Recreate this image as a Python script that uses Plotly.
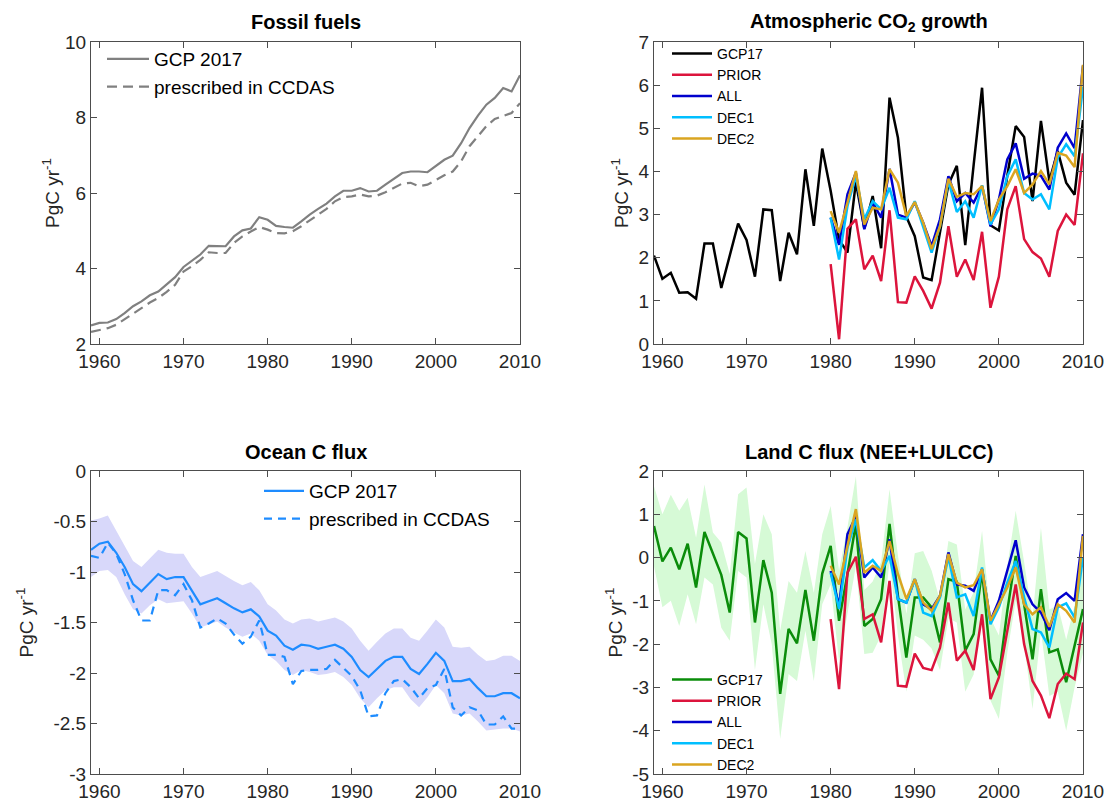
import plotly.graph_objects as go

# ---------------- data ----------------
years = list(range(1959, 2011))
years_m = list(range(1980, 2011))

ff_gcp = [2.49, 2.56, 2.57, 2.66, 2.82, 3.00, 3.13, 3.29, 3.39, 3.57, 3.77, 4.04, 4.21, 4.37, 4.60, 4.60,
          4.59, 4.85, 5.01, 5.06, 5.36, 5.29, 5.13, 5.10, 5.08, 5.25, 5.43, 5.58, 5.72, 5.91, 6.06, 6.06,
          6.13, 6.04, 6.06, 6.22, 6.38, 6.53, 6.57, 6.57, 6.55, 6.72, 6.88, 6.99, 7.32, 7.72, 8.05, 8.34,
          8.52, 8.78, 8.69, 9.12]
ff_ccdas = [2.32, 2.38, 2.42, 2.51, 2.65, 2.80, 2.95, 3.10, 3.22, 3.38, 3.57, 3.92, 4.06, 4.23, 4.43, 4.41,
            4.41, 4.68, 4.85, 4.98, 5.10, 5.03, 4.94, 4.93, 4.99, 5.12, 5.28, 5.43, 5.58, 5.78, 5.89, 5.91,
            5.96, 5.91, 5.93, 6.02, 6.13, 6.25, 6.27, 6.18, 6.22, 6.35, 6.47, 6.57, 6.84, 7.24, 7.52, 7.77,
            7.96, 8.05, 8.12, 8.38]

atm_gcp = [2.05, 1.51, 1.65, 1.19, 1.20, 1.05, 2.33, 2.33, 1.30, 2.05, 2.79, 2.41, 1.56, 3.12, 3.10, 1.46,
           2.58, 2.08, 4.05, 2.74, 4.53, 3.55, 2.42, 2.12, 3.75, 2.68, 3.43, 2.22, 5.71, 4.78, 2.95, 2.50,
           1.54, 1.48, 2.55, 3.70, 4.13, 2.29, 4.15, 5.94, 2.75, 2.63, 3.90, 5.05, 4.80, 3.31, 5.17, 3.78,
           4.47, 3.74, 3.46, 5.19]
atm_prior = [1.85, 0.11, 2.67, 2.89, 1.73, 2.05, 1.46, 3.10, 0.97, 0.96, 1.57, 1.23, 0.82, 1.42, 2.73, 1.56,
             1.96, 1.48, 2.60, 0.84, 1.56, 3.12, 3.66, 2.43, 2.13, 1.98, 1.56, 2.62, 3.00, 2.76, 4.42]
atm_all = [2.93, 2.30, 3.47, 3.97, 2.66, 3.28, 2.93, 4.06, 3.00, 2.93, 3.28, 2.81, 2.27, 2.89, 3.89, 3.31,
           3.50, 3.28, 3.66, 2.73, 3.35, 4.28, 4.65, 3.83, 3.95, 3.90, 3.58, 4.55, 4.88, 4.54, 6.45]
atm_dec1 = [2.93, 1.96, 3.20, 3.89, 2.89, 3.31, 3.12, 3.62, 2.93, 2.89, 3.31, 2.73, 2.12, 2.73, 3.78, 3.06,
            3.31, 2.93, 3.68, 2.77, 3.12, 3.89, 4.28, 3.50, 3.35, 3.47, 3.12, 4.32, 4.63, 4.35, 5.96]
atm_dec2 = [3.08, 2.58, 3.28, 4.01, 2.77, 3.16, 3.12, 4.05, 3.74, 2.97, 3.29, 2.81, 2.20, 2.73, 3.83, 3.41,
            3.50, 3.47, 3.66, 2.85, 3.35, 3.66, 4.05, 3.50, 3.70, 4.01, 3.70, 4.43, 4.37, 4.10, 6.47]

oc_gcp = [-0.78, -0.72, -0.70, -0.81, -0.95, -1.12, -1.19, -1.10, -1.02, -1.07, -1.05, -1.05, -1.18, -1.32,
          -1.29, -1.26, -1.31, -1.36, -1.40, -1.37, -1.44, -1.58, -1.63, -1.73, -1.77, -1.72, -1.73, -1.76,
          -1.74, -1.72, -1.76, -1.84, -1.97, -2.04, -1.96, -1.88, -1.84, -1.84, -1.96, -2.01, -1.91, -1.80,
          -1.88, -2.08, -2.08, -2.06, -2.15, -2.23, -2.23, -2.20, -2.20, -2.25]
oc_ccdas = [-0.84, -0.86, -0.71, -0.82, -1.02, -1.28, -1.48, -1.48, -1.18, -1.18, -1.23, -1.12, -1.28, -1.55,
            -1.51, -1.46, -1.51, -1.62, -1.71, -1.64, -1.48, -1.82, -1.82, -1.84, -2.11, -1.98, -1.97, -1.97,
            -1.96, -1.87, -1.95, -2.03, -2.17, -2.43, -2.42, -2.20, -2.08, -2.06, -2.14, -2.25, -2.15, -2.12,
            -1.96, -2.34, -2.42, -2.34, -2.37, -2.51, -2.51, -2.43, -2.55, -2.55]
oc_upper = [-0.49, -0.47, -0.44, -0.59, -0.74, -0.89, -0.95, -0.87, -0.78, -0.81, -0.82, -0.82, -0.95, -1.05,
            -1.02, -0.99, -1.04, -1.09, -1.13, -1.10, -1.18, -1.32, -1.38, -1.47, -1.51, -1.47, -1.46, -1.49,
            -1.47, -1.45, -1.49, -1.56, -1.68, -1.78, -1.69, -1.61, -1.56, -1.56, -1.65, -1.68, -1.58, -1.47,
            -1.55, -1.74, -1.75, -1.74, -1.82, -1.88, -1.87, -1.83, -1.83, -1.88]
oc_lower = [-1.05, -0.99, -0.98, -1.05, -1.22, -1.37, -1.41, -1.33, -1.27, -1.31, -1.30, -1.29, -1.41, -1.55,
            -1.52, -1.49, -1.55, -1.60, -1.64, -1.61, -1.68, -1.82, -1.88, -1.97, -2.02, -1.97, -1.99, -2.02,
            -2.01, -1.99, -2.04, -2.12, -2.25, -2.34, -2.25, -2.17, -2.14, -2.14, -2.26, -2.34, -2.24, -2.12,
            -2.20, -2.40, -2.42, -2.40, -2.48, -2.57, -2.56, -2.55, -2.55, -2.58]

land_gcp = [0.73, -0.09, 0.23, -0.27, 0.32, -0.69, 0.59, 0.10, -0.40, -1.27, 0.59, 0.44, -1.50, -0.06,
            -0.81, -3.15, -1.65, -1.98, -0.75, -1.92, -0.37, 0.27, -1.46, -0.38, 0.78, -1.58, -1.42, -0.96,
            0.78, -0.88, -2.31, -0.92, -0.92, -1.15, -1.96, -0.50, -0.56, -2.15, -1.77, -0.31, -2.35, -2.73,
            -1.23, 0.04, -1.08, -2.35, -0.73, -2.19, -2.12, -2.88, -2.04, -1.19]
land_upper = [1.65, 1.00, 1.45, 1.08, 1.38, 0.46, 1.69, 0.58, 0.35, -0.38, 1.46, 1.62, -0.15, 1.00,
              0.54, -1.69, -0.54, -0.81, 0.15, -0.81, 0.54, 1.19, -0.30, 0.70, 1.88, -0.75, -0.55, -0.10,
              1.58, 0.05, -1.30, 0.10, 0.15, -0.30, -1.00, 0.38, 0.30, -1.20, -0.80, 0.62, -1.40, -1.80,
              -0.20, 1.08, -0.10, -1.40, 0.69, -1.20, -1.10, -1.90, -1.10, -0.20]
land_lower = [-0.20, -1.15, -1.00, -1.58, -0.85, -1.54, -0.46, -0.62, -1.62, -1.92, -0.31, -0.46, -2.60, -1.08,
              -2.00, -4.19, -2.69, -2.85, -1.69, -2.85, -1.08, -0.62, -2.40, -1.30, -0.20, -2.23, -2.20, -1.80,
              -0.10, -1.80, -3.10, -1.80, -1.90, -2.10, -2.60, -1.40, -1.50, -3.10, -2.70, -1.30, -3.30, -3.73,
              -2.20, -1.00, -2.00, -3.50, -1.70, -3.20, -3.10, -4.00, -3.00, -2.20]
land_prior = [-1.42, -3.04, -0.35, 0.02, -1.42, -1.31, -1.96, -0.54, -2.96, -2.98, -2.22, -2.55, -2.60, -2.08,
              -1.04, -2.38, -2.15, -2.60, -1.31, -3.27, -2.77, -1.69, -0.62, -2.00, -2.85, -3.19, -3.71, -2.92,
              -2.68, -2.81, -1.50]
land_all = [-0.31, -1.12, 0.54, 0.95, -0.46, -0.23, -0.46, 0.42, -0.96, -1.04, -0.50, -1.08, -1.19, -0.88,
            0.12, -0.62, -0.65, -0.77, -0.27, -1.46, -1.00, -0.31, 0.40, -0.69, -1.08, -1.27, -1.68, -0.96,
            -0.82, -1.00, 0.54]
land_dec1 = [-0.35, -1.19, 0.23, 0.88, -0.23, -0.06, -0.31, 0.04, -0.96, -1.04, -0.50, -1.27, -1.35, -0.92,
             0.02, -0.92, -0.85, -1.35, -0.23, -1.54, -1.15, -0.58, -0.08, -0.92, -1.65, -1.73, -2.08, -1.15,
             -1.06, -1.38, 0.00]
land_dec2 = [-0.19, -0.62, 0.27, 1.12, -0.35, -0.19, -0.31, 0.38, -0.38, -0.96, -0.50, -1.04, -1.23, -0.88,
             0.08, -0.58, -0.69, -0.64, -0.27, -1.46, -1.08, -0.69, -0.23, -1.08, -1.31, -1.15, -1.60, -1.08,
             -1.23, -1.50, 0.50]

x_ticks = [1960, 1970, 1980, 1990, 2000, 2010]
ff_ticks = [2, 4, 6, 8, 10]
atm_ticks = [0, 1, 2, 3, 4, 5, 6, 7]
oc_ticks = [-3, -2.5, -2, -1.5, -1, -0.5, 0]
oc_ticktext = ["-3", "-2.5", "-2", "-1.5", "-1", "-0.5", "0"]
land_ticks = [-5, -4, -3, -2, -1, 0, 1, 2]
land_ticktext = ["-5", "-4", "-3", "-2", "-1", "0", "1", "2"]

# ---------------- styles ----------------
FONT = "Liberation Sans, Arial, Helvetica, sans-serif"
C_GRAY = "rgb(128,128,128)"
C_BLACK = "#000000"
C_RED = "#DC143C"
C_BLUE = "#0000CD"
C_CYAN = "#00BFFF"
C_GOLD = "#DAA520"
C_GREEN = "#0A8C0A"
C_OCEAN = "#1E8CFF"
W = 1115
H = 806

fig = go.Figure()

def add_line(x, y, color, name, xa, ya, legend, dash=None, width=2.2, showlegend=True):
    fig.add_trace(go.Scatter(x=x, y=y, mode="lines", name=name,
                             line=dict(color=color, width=width, dash=dash),
                             xaxis=xa, yaxis=ya, legend=legend, showlegend=showlegend,
                             hoverinfo="skip"))

def add_band(x, lo, hi, color, xa, ya):
    fig.add_trace(go.Scatter(x=list(x) + list(x)[::-1], y=list(hi) + list(lo)[::-1],
                             mode="lines", fill="toself", fillcolor=color,
                             line=dict(width=0, color=color), showlegend=False,
                             xaxis=xa, yaxis=ya, hoverinfo="skip"))

# Panel 1: fossil fuels
add_line(years, ff_gcp, C_GRAY, "GCP 2017", "x", "y", "legend", width=2.2)
add_line(years, ff_ccdas, C_GRAY, "prescribed in CCDAS", "x", "y", "legend", dash="10px,6px", width=2.2)

# Panel 2: atmospheric growth
add_line(years, atm_gcp, C_BLACK, "GCP17", "x2", "y2", "legend2", width=2.5)
add_line(years_m, atm_prior, C_RED, "PRIOR", "x2", "y2", "legend2", width=2.5)
add_line(years_m, atm_all, C_BLUE, "ALL", "x2", "y2", "legend2", width=2.5)
add_line(years_m, atm_dec1, C_CYAN, "DEC1", "x2", "y2", "legend2", width=2.5)
add_line(years_m, atm_dec2, C_GOLD, "DEC2", "x2", "y2", "legend2", width=2.5)

# Panel 3: ocean
add_band(years, oc_lower, oc_upper, "rgb(216,216,250)", "x3", "y3")
add_line(years, oc_gcp, C_OCEAN, "GCP 2017", "x3", "y3", "legend3", width=2.2)
add_line(years, oc_ccdas, C_OCEAN, "prescribed in CCDAS", "x3", "y3", "legend3", dash="8px,6px", width=2.2)

# Panel 4: land
add_band(years, land_lower, land_upper, "rgb(214,250,214)", "x4", "y4")
add_line(years, land_gcp, C_GREEN, "GCP17", "x4", "y4", "legend4", width=2.5)
add_line(years_m, land_prior, C_RED, "PRIOR", "x4", "y4", "legend4", width=2.5)
add_line(years_m, land_all, C_BLUE, "ALL", "x4", "y4", "legend4", width=2.5)
add_line(years_m, land_dec1, C_CYAN, "DEC1", "x4", "y4", "legend4", width=2.5)
add_line(years_m, land_dec2, C_GOLD, "DEC2", "x4", "y4", "legend4", width=2.5)

# ---------------- layout ----------------
colL = [91 / W, 520 / W]
colR = [654 / W, 1083 / W]
rowT = [1 - 344 / H, 1 - 42 / H]
rowB = [1 - 774 / H, 1 - 471 / H]

tickfont = dict(family=FONT, size=19, color="#262626")
axis_common = dict(showline=True, linecolor="#4d4d4d", linewidth=1, mirror="ticks",
                   ticks="inside", ticklen=6, tickcolor="#4d4d4d", tickwidth=1,
                   showgrid=False, zeroline=False, tickfont=tickfont, automargin=False)

def xaxis(domain, anchor):
    return dict(domain=domain, anchor=anchor, range=[1959, 2010], tickvals=x_ticks,
                ticktext=[str(v) for v in x_ticks], **axis_common)

def yaxis(domain, anchor, rng, tv, tt, standoff=8):
    return dict(domain=domain, anchor=anchor, range=rng, tickvals=tv, ticktext=tt,
                title=dict(text="PgC yr<sup>-1</sup>", font=dict(family=FONT, size=19, color="#262626"),
                           standoff=standoff),
                **axis_common)

legend_font_big = dict(family=FONT, size=19, color="#000")
legend_font_small = dict(family=FONT, size=14, color="#000")

fig.update_layout(
    template="none",
    width=W, height=H, autosize=False,
    margin=dict(l=0, r=0, t=0, b=0, pad=0),
    paper_bgcolor="white", plot_bgcolor="white",
    font=dict(family=FONT, color="#000"),
    xaxis=xaxis(colL, "y"),
    yaxis=yaxis(rowT, "x", [2, 10], ff_ticks, [str(v) for v in ff_ticks], standoff=0),
    xaxis2=xaxis(colR, "y2"),
    yaxis2=yaxis(rowT, "x2", [0, 7], atm_ticks, [str(v) for v in atm_ticks], standoff=4),
    xaxis3=xaxis(colL, "y3"),
    yaxis3=yaxis(rowB, "x3", [-3, 0], oc_ticks, oc_ticktext, standoff=14),
    xaxis4=xaxis(colR, "y4"),
    yaxis4=yaxis(rowB, "x4", [-5, 2], land_ticks, land_ticktext, standoff=4),
    legend=dict(x=102 / W, y=1 - 40 / H, xanchor="left", yanchor="top", font=legend_font_big,
                bgcolor="rgba(0,0,0,0)", tracegroupgap=0, itemwidth=42),
    legend2=dict(x=667 / W, y=1 - 38 / H, xanchor="left", yanchor="top", font=legend_font_small,
                 bgcolor="rgba(0,0,0,0)", tracegroupgap=0, itemwidth=40),
    legend3=dict(x=259 / W, y=1 - 472 / H, xanchor="left", yanchor="top", font=legend_font_big,
                 bgcolor="rgba(0,0,0,0)", tracegroupgap=0, itemwidth=40),
    legend4=dict(x=667 / W, y=1 - 664 / H, xanchor="left", yanchor="top", font=legend_font_small,
                 bgcolor="rgba(0,0,0,0)", tracegroupgap=0, itemwidth=40),
    showlegend=True,
)

title_font = dict(family=FONT, size=20, color="#000")
titles = [
    ("<b>Fossil fuels</b>", (colL[0] + colL[1]) / 2, 1 - 22 / H),
    ("<b>Atmospheric CO<sub>2</sub> growth</b>", (colR[0] + colR[1]) / 2, 1 - 22 / H),
    ("<b>Ocean C flux</b>", (colL[0] + colL[1]) / 2, 1 - 452 / H),
    ("<b>Land C flux (NEE+LULCC)</b>", (colR[0] + colR[1]) / 2, 1 - 452 / H),
]
for text, x, y in titles:
    fig.add_annotation(text=text, x=x, y=y, xref="paper", yref="paper", showarrow=False,
                       xanchor="center", yanchor="middle", font=title_font)

fig.write_html("out.html")
